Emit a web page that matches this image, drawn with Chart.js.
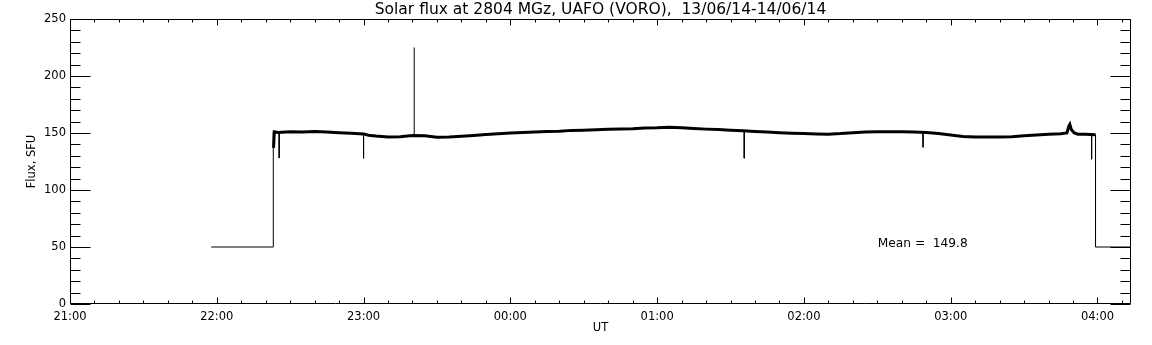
<!DOCTYPE html>
<html>
<head>
<meta charset="utf-8">
<script src="https://cdn.jsdelivr.net/npm/chart.js@4/dist/chart.umd.min.js"></script>
<style>
html,body{margin:0;padding:0;background:#fff;}
#wrap{width:1152px;height:345px;position:relative;}
</style>
</head>
<body>
<div id="wrap"><canvas id="c" width="1152" height="345"></canvas></div>
<script>
// ---- data (minutes after 21:00 UT) ----
const titleText = "Solar flux at 2804 MGz, UAFO (VORO),  13/06/14-14/06/14";
const meanText = "Mean =  149.8";
const hourLabels = ["21:00","22:00","23:00","00:00","01:00","02:00","03:00","04:00"];
const hourTicks = [0,60,120,180,240,300,360,420];
const fluxTicks = [0,50,100,150,200,250];

// quiet-sun trace (thick, noisy line)
const baseTime = [83.2,83.5,85,90,95,100,105,110,115,120,122,125,130,135,140,145,150,155,160,165,170,175,180,185,190,195,200,205,210,215,220,225,230,235,240,245,250,255,260,265,270,275,280,285,290,295,300,305,310,315,320,325,330,335,340,345,350,355,360,365,370,375,380,385,390,395,400,405,407.5,408.3,408.7,409.3,410.5,412,415,419.2];
const baseFlux = [137,151,150.5,151,150.8,151.3,150.8,150.3,149.8,149.2,148,147.3,146.5,146.8,147.8,147.6,146.3,146.5,147.2,147.8,148.6,149.4,150,150.4,150.8,151.3,151.5,152.3,152.5,152.8,153.2,153.6,153.8,154.3,154.5,155,154.6,154,153.4,153,152.5,152,151.3,150.8,150.2,149.8,149.6,149.2,149,149.5,150.3,150.8,151,151.2,151,150.8,150.4,149.5,148.3,147,146.6,146.6,146.5,146.8,147.5,148.2,148.8,149.3,150,156,157.5,153,150,149,148.8,148.5];

// calibration level before / after observation (thin line)
const stepTime = [57.75,83.1,83.1];
const stepFlux = [50,50,151];
const endTime = [419.2,419.2,433.7];
const endFlux = [148.5,50,50];

// spikes (thin vertical lines)
const spikeTime = [85.5,120,140.7,275.6,348.7,417.6];
const spikeFrom = [150.5,149.2,148,152,150.6,148.6];
const spikeTo   = [128,127.8,225,127.8,137.4,127];

const X_MAX = 433.7;

function buildThin(){
  const pts = [];
  stepTime.forEach((t,i)=>pts.push({x:t,y:stepFlux[i]}));
  pts.push({x:83.2,y:null});
  spikeTime.forEach((t,i)=>{
    pts.push({x:t,y:spikeFrom[i]});
    pts.push({x:t,y:spikeTo[i]});
    pts.push({x:t+0.01,y:null});
  });
  endTime.forEach((t,i)=>pts.push({x:t,y:endFlux[i]}));
  return pts;
}

const framePlugin = {
  id:'frame',
  afterDatasetsDraw(chart){
    const {ctx, chartArea:a, scales:{x,y}} = chart;
    ctx.save();
    ctx.strokeStyle='#000';
    ctx.lineWidth=1;
    const L=Math.round(a.left)+0.5, R=Math.round(a.right)-0.5, T=Math.round(a.top)+0.5, B=Math.round(a.bottom)-0.5;
    ctx.beginPath();
    ctx.rect(L,T,R-L,B-T);
    // x ticks every 10 min
    for(let m=0;m<=X_MAX;m+=10){
      const px=Math.round(x.getPixelForValue(m))+0.5;
      const len = (m%60===0)?6:3;
      ctx.moveTo(px,B); ctx.lineTo(px,B-len);
      ctx.moveTo(px,T); ctx.lineTo(px,T+len);
    }
    // y ticks every 10 SFU
    for(let v=0;v<=250;v+=10){
      const py=Math.round(y.getPixelForValue(v))+0.5;
      const len = (v%50===0)?20:10;
      ctx.moveTo(L,py); ctx.lineTo(L+len,py);
      ctx.moveTo(R,py); ctx.lineTo(R-len,py);
    }
    ctx.stroke();
    // mean annotation
    ctx.fillStyle='#000';
    ctx.font='12.2px "DejaVu Sans"';
    ctx.textBaseline='middle';
    ctx.textAlign='left';
    ctx.fillText(meanText, x.getPixelForValue(330.2), y.getPixelForValue(52.5));
    ctx.restore();
  }
};

const tickFont = {family:'"DejaVu Sans"', size:11.5};

new Chart(document.getElementById('c'), {
  type:'line',
  data:{
    datasets:[
      {data: baseTime.map((t,i)=>({x:t,y:baseFlux[i]})), borderColor:'#000', borderWidth:3, pointRadius:0, tension:0, fill:false},
      {data: buildThin(), borderColor:'#000', borderWidth:1, pointRadius:0, tension:0, fill:false, spanGaps:false}
    ]
  },
  options:{
    responsive:false,
    animation:false,
    events:[],
    layout:{padding:{left:0,right:21,top:0,bottom:0}},
    plugins:{
      legend:{display:false},
      tooltip:{enabled:false},
      title:{display:true, text:titleText, fullSize:false, color:'#000', font:{family:'"DejaVu Sans"', size:15.5, weight:'normal', lineHeight:1}, padding:{top:2.5,bottom:1}}
    },
    scales:{
      x:{
        type:'linear', min:0, max:X_MAX,
        afterBuildTicks(s){ s.ticks = hourTicks.map(v=>({value:v})); },
        afterFit(s){ s.height = 41; },
        grid:{display:false, drawTicks:false},
        border:{display:false},
        ticks:{color:'#000', font:tickFont, padding:6, maxRotation:0, autoSkip:false,
          callback(v){ const i=hourTicks.indexOf(v); return i>=0?hourLabels[i]:''; }},
        title:{display:true, text:'UT', color:'#000', font:tickFont, padding:{top:0,bottom:10.5}}
      },
      y:{
        min:0, max:250,
        afterBuildTicks(s){ s.ticks = fluxTicks.map(v=>({value:v})); },
        afterFit(s){ s.width = 70; },
        grid:{display:false, drawTicks:false},
        border:{display:false},
        ticks:{color:'#000', font:tickFont, padding:4},
        title:{display:true, text:'Flux, SFU', color:'#000', font:tickFont, padding:{top:25,bottom:0}}
      }
    }
  },
  plugins:[framePlugin]
});
</script>
</body>
</html>
